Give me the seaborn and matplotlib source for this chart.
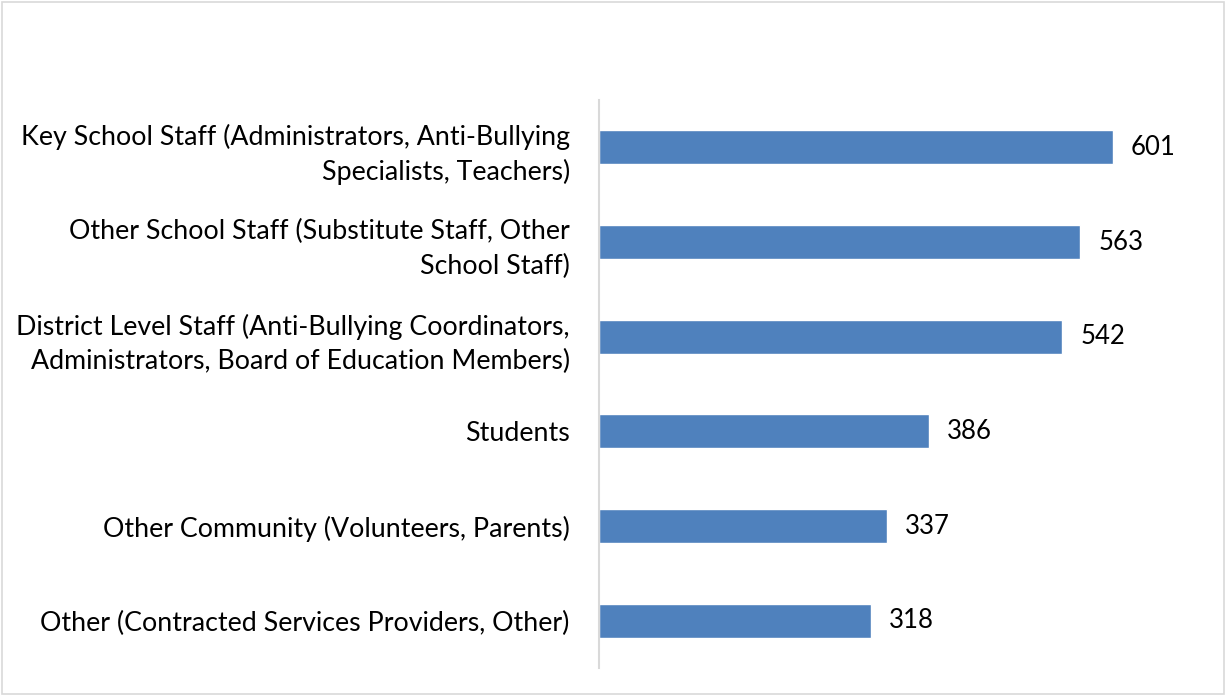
import matplotlib
matplotlib.use("Agg")
import matplotlib.pyplot as plt
import seaborn as sns
import pandas as pd
from matplotlib.patches import Rectangle

categories = [
    "Key School Staff (Administrators, Anti-Bullying\nSpecialists, Teachers)",
    "Other School Staff (Substitute Staff, Other\nSchool Staff)",
    "District Level Staff (Anti-Bullying Coordinators,\nAdministrators, Board of Education Members)",
    "Students",
    "Other Community (Volunteers, Parents)",
    "Other (Contracted Services Providers, Other)",
]
values = [601, 563, 542, 386, 337, 318]

df = pd.DataFrame({"group": categories, "count": values})

sns.set_theme(style="white")
plt.rcParams["font.family"] = ["Lato", "DejaVu Sans"]

fig = plt.figure(figsize=(12.26, 6.96), dpi=100)
ax = fig.add_axes([599 / 1226, 28 / 696, (1210 - 599) / 1226, (668 - 100) / 696])

sns.barplot(data=df, x="count", y="group", color="#4F81BD", width=0.36,
            saturation=1, ax=ax, orient="h")

for i, v in enumerate(values):
    ax.text(v + 21, i, str(v), va="center", ha="left", fontsize=18.5, color="black")

ax.set_xlim(0, (1210 - 599) / 0.855)
ax.set_ylim(5.5, -0.5)
ax.set_xlabel("")
ax.set_ylabel("")
ax.set_xticks([])
ax.tick_params(axis="y", length=0, pad=21, labelsize=19.3, labelcolor="black")
for lbl in ax.get_yticklabels():
    lbl.set_horizontalalignment("right")
    lbl.set_multialignment("right")
    lbl.set_linespacing(1.45)
for s in ["top", "right", "bottom"]:
    ax.spines[s].set_visible(False)
ax.spines["left"].set_color("#D9D9D9")
ax.spines["left"].set_linewidth(1.5)

fig.patches.append(Rectangle((0.002, 0.003), 0.996, 0.994, transform=fig.transFigure,
                             fill=False, edgecolor="#D9D9D9", linewidth=1.2))

fig.savefig("out.png", dpi=100)
